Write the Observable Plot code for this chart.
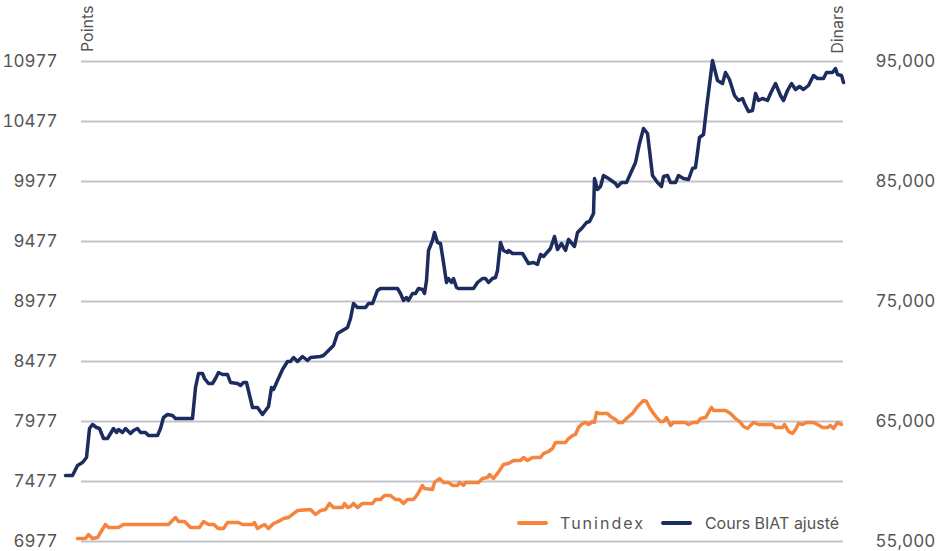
<!DOCTYPE html>
<html><head><meta charset="utf-8">
<script src="https://cdn.jsdelivr.net/npm/d3@7"></script>
<script src="https://cdn.jsdelivr.net/npm/@observablehq/plot@0.6"></script>
<style>
body{margin:0;background:#fff;font-family:Inter,"Noto Sans",sans-serif;}
#wrap{position:relative;width:941px;height:551px;overflow:hidden;}
#legend{position:absolute;left:517px;top:511px;height:24px;display:flex;align-items:center;font-size:16px;color:#555;white-space:nowrap;}
.sw{display:inline-block;width:31px;height:3.5px;border-radius:2px;}
</style></head>
<body><div id="wrap"></div>
<script>
// Session index (no x labels in the reference)
const biatDays = [0,7,12,17,21,24,27,31,34,38,42,45,48,51,53,57,60,65,68,72,75,80,83,92,95,98,102,107,110,127,130,133,137,139,143,147,150,153,157,162,165,172,175,178,181,187,192,197,200,203,206,208,212,217,222,225,228,232,237,242,245,255,258,263,268,272,277,282,285,288,292,300,303,307,312,315,332,335,338,341,343,347,350,353,357,359,361,363,367,369,372,375,378,381,383,386,388,391,393,408,412,417,420,423,427,430,432,435,438,442,443,447,457,463,468,472,475,478,485,489,492,496,500,503,509,512,517,521,524,528,529,532,535,538,543,550,552,556,561,565,570,574,578,582,587,592,596,598,602,605,610,613,618,623,627,630,634,638,641,647,652,657,660,664,669,673,677,679,683,687,690,693,697,702,705,710,715,718,722,726,730,734,738,743,748,752,758,761,767,770,772,776,778];
const biatDinars = [60500,60500,61333,61583,62000,64417,64750,64500,64417,63583,63583,64000,64417,64083,64333,64083,64417,64000,64250,64417,64083,64083,63833,63833,64417,65333,65583,65500,65250,65250,67833,69000,69000,68583,68167,68167,68583,69083,68917,68917,68250,68167,68000,68250,68250,66167,66167,65583,65917,66250,67833,67667,68417,69333,70000,70000,70333,70000,70417,70083,70333,70417,70500,70917,71333,72333,72583,72833,73583,74833,74500,74500,74833,74833,75917,76083,76083,75667,75083,75333,75083,75667,75667,76083,76000,75667,76750,79250,80083,80750,79917,79833,78250,76583,76917,76583,76917,76167,76083,76083,76583,76917,76917,76583,76917,77000,77583,79917,79250,79083,79250,79000,79000,78167,78250,78083,78917,78750,79417,80417,79333,79833,79250,80167,79583,80750,81167,81583,81667,82333,85250,84333,84583,85500,85250,84833,84583,84917,84917,85667,86583,88167,89417,89000,85500,84917,84583,85417,85500,84917,84917,85500,85250,85167,86083,86167,88667,88917,91083,95083,93417,93167,94083,93500,92167,91750,91917,91500,90833,90917,92333,91750,91917,91750,92333,93167,92167,91750,92583,93167,92667,92917,92667,93000,93833,93583,93583,94083,94083,94417,93917,93833,93250];

const tunDays = [12,20,23,27,32,35,40,43,53,58,103,110,113,119,125,134,138,143,148,153,158,162,173,177,187,189,192,197,199,203,208,213,218,223,228,232,245,250,255,260,264,268,277,279,282,285,288,292,297,307,310,315,319,325,330,334,338,342,348,352,357,359,367,369,374,378,383,387,392,394,398,400,413,417,422,424,428,432,438,443,448,455,458,462,467,475,478,483,487,490,500,503,507,510,513,517,520,523,527,529,531,534,542,545,550,553,557,562,567,572,575,578,581,584,588,592,595,598,601,605,608,620,623,627,632,635,640,646,648,660,665,670,675,678,682,684,688,693,707,710,717,719,723,727,730,733,737,741,748,752,757,762,765,768,772,776];
const tunPoints = [7002,7002,7035,7002,7010,7052,7119,7094,7094,7119,7119,7177,7144,7144,7094,7094,7144,7119,7119,7085,7085,7135,7135,7119,7119,7135,7085,7110,7119,7085,7127,7144,7169,7177,7210,7235,7244,7202,7235,7244,7294,7260,7260,7294,7260,7269,7294,7260,7294,7294,7327,7327,7360,7360,7327,7327,7294,7327,7327,7369,7444,7419,7410,7469,7502,7469,7469,7444,7444,7469,7444,7469,7469,7502,7510,7535,7502,7544,7619,7627,7652,7652,7677,7652,7677,7677,7710,7727,7752,7802,7802,7835,7860,7869,7927,7960,7969,7952,7977,7969,8052,8044,8044,8019,7994,7969,7969,8010,8044,8102,8127,8152,8144,8094,8044,8002,7977,7977,8010,7944,7969,7969,7952,7969,7969,8002,8010,8094,8069,8069,8044,8002,7969,7935,7919,7935,7969,7952,7952,7927,7927,7952,7894,7877,7910,7960,7952,7969,7969,7952,7927,7927,7944,7919,7969,7952];

const leftTicks = [6977,7477,7977,8477,8977,9477,9977,10477,10977];
const rightTicks = [55000,65000,75000,85000,95000];
const seriesNames = ["Tunindex","Cours BIAT ajusté"];
const axisTitles = ["Points","Dinars"];

// Dinars axis is aligned so that 55,000 ↔ 6977 points and 95,000 ↔ 10977 points
const toPoints = d => 6977 + (d - 55000) / 10;
const toDinars = p => 55000 + (p - 6977) * 10;

const biat = biatDays.map((t, i) => ({t, p: toPoints(biatDinars[i])}));
const tun = tunDays.map((t, i) => ({t, p: tunPoints[i]}));

const ORANGE = "#f5853d", NAVY = "#1d2c5e", TXT = "#555555";

const chart = Plot.plot({
  width: 941, height: 551,
  marginLeft: 65, marginRight: 98, marginTop: 61, marginBottom: 10,
  style: {fontFamily: "Inter, 'Noto Sans', sans-serif", fontSize: "17px", color: TXT, background: "transparent", overflow: "visible"},
  x: {domain: [0, 778], axis: null},
  y: {domain: [6977, 10977], axis: null},
  marks: [
    Plot.ruleY(leftTicks, {stroke: "#c3c3c7", strokeWidth: 2.2, insetLeft: 16}),
    Plot.axisY(leftTicks, {anchor: "left", tickSize: 0, tickPadding: 8, label: null, tickFormat: d => String(d), fill: TXT}),
    Plot.axisY(rightTicks.map(toPoints), {anchor: "right", tickSize: 0, tickPadding: 32, label: null, tickFormat: p => d3.format(",")(toDinars(p)), fill: TXT}),
    Plot.line(tun, {x: "t", y: "p", stroke: ORANGE, strokeWidth: 3.5, strokeLinejoin: "round"}),
    Plot.line(biat, {x: "t", y: "p", stroke: NAVY, strokeWidth: 3.5, strokeLinejoin: "round"}),
    Plot.text([axisTitles[0]], {frameAnchor: "top-left", rotate: -90, textAnchor: "end", lineAnchor: "middle", dx: 22, dy: -56, fontSize: 16, fill: TXT}),
    Plot.text([axisTitles[1]], {frameAnchor: "top-right", rotate: -90, textAnchor: "end", lineAnchor: "middle", dx: -6, dy: -56, fontSize: 16, fill: TXT})
  ]
});

const wrap = document.getElementById("wrap");
wrap.appendChild(chart);

const legend = document.createElement("div");
legend.id = "legend";
legend.innerHTML =
  `<span class="sw" style="background:${ORANGE}"></span>` +
  `<span style="margin-left:12px;letter-spacing:2px">${seriesNames[0]}</span>` +
  `<span class="sw" style="background:${NAVY};margin-left:16px"></span>` +
  `<span style="margin-left:13px">${seriesNames[1]}</span>`;
wrap.appendChild(legend);
</script>
</body></html>
